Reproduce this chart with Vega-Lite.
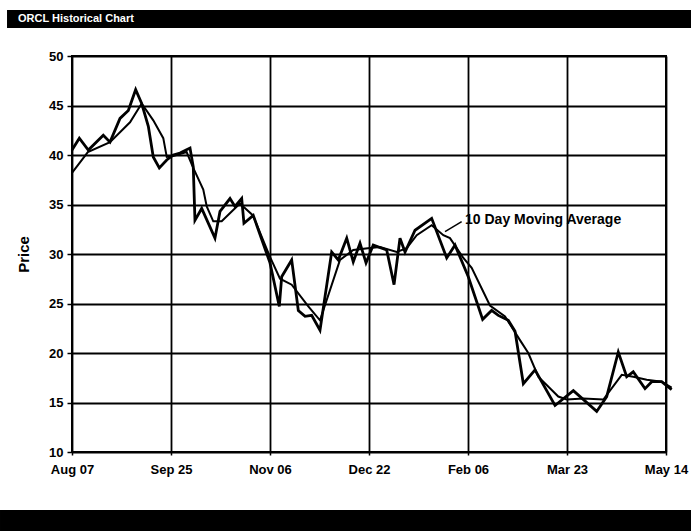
{
  "$schema": "https://vega.github.io/schema/vega-lite/v6.json",
  "padding": {"left": 0, "top": 10, "right": 0, "bottom": 0},
  "background": "white",
  "spacing": 21,
  "config": {"font": "Liberation Sans", "view": {"stroke": null}},
  "vconcat": [
    {
      "width": 594,
      "height": 18,
      "data": {"values": [{"title": "ORCL Historical Chart"}]},
      "encoding": {
        "y": {"datum": 0.5, "type": "quantitative", "scale": {"domain": [0, 1], "nice": false, "zero": false}, "axis": null}
      },
      "layer": [
        {
          "mark": {"type": "rect", "color": "black", "clip": false},
          "encoding": {
            "x": {"datum": -0.1094, "type": "quantitative", "scale": {"domain": [0, 1], "nice": false, "zero": false}, "axis": null},
            "x2": {"datum": 1.0421},
            "y": {"datum": 0, "type": "quantitative"},
            "y2": {"datum": 1}
          }
        },
        {
          "mark": {"type": "text", "color": "white", "font": "Liberation Sans", "fontSize": 11, "fontWeight": "bold", "align": "left", "baseline": "middle"},
          "encoding": {
            "text": {"field": "title"},
            "x": {"datum": -0.0909, "type": "quantitative"}
          }
        }
      ]
    },
    {
      "width": 594,
      "height": 396,
      "view": {"stroke": "black", "strokeWidth": 2, "fill": "white"},
      "data": {"values": [
        {"series": "Price", "t": 0, "v": 40.5},
        {"series": "Price", "t": 0.074, "v": 41.7},
        {"series": "Price", "t": 0.165, "v": 40.5},
        {"series": "Price", "t": 0.316, "v": 42.0},
        {"series": "Price", "t": 0.384, "v": 41.3},
        {"series": "Price", "t": 0.485, "v": 43.7},
        {"series": "Price", "t": 0.569, "v": 44.5},
        {"series": "Price", "t": 0.643, "v": 46.6},
        {"series": "Price", "t": 0.704, "v": 45.2},
        {"series": "Price", "t": 0.771, "v": 42.9},
        {"series": "Price", "t": 0.821, "v": 39.8},
        {"series": "Price", "t": 0.882, "v": 38.7},
        {"series": "Price", "t": 0.957, "v": 39.5},
        {"series": "Price", "t": 1.023, "v": 40.0},
        {"series": "Price", "t": 1.091, "v": 40.2},
        {"series": "Price", "t": 1.192, "v": 40.7},
        {"series": "Price", "t": 1.225, "v": 38.8},
        {"series": "Price", "t": 1.242, "v": 33.4},
        {"series": "Price", "t": 1.31, "v": 34.6},
        {"series": "Price", "t": 1.444, "v": 31.6},
        {"series": "Price", "t": 1.495, "v": 34.3},
        {"series": "Price", "t": 1.596, "v": 35.6},
        {"series": "Price", "t": 1.646, "v": 34.8},
        {"series": "Price", "t": 1.714, "v": 35.6},
        {"series": "Price", "t": 1.737, "v": 33.1},
        {"series": "Price", "t": 1.831, "v": 33.9},
        {"series": "Price", "t": 2.0, "v": 29.1},
        {"series": "Price", "t": 2.094, "v": 24.7},
        {"series": "Price", "t": 2.118, "v": 27.7},
        {"series": "Price", "t": 2.219, "v": 29.4},
        {"series": "Price", "t": 2.286, "v": 24.3},
        {"series": "Price", "t": 2.354, "v": 23.7},
        {"series": "Price", "t": 2.421, "v": 23.8},
        {"series": "Price", "t": 2.505, "v": 22.3},
        {"series": "Price", "t": 2.623, "v": 30.2},
        {"series": "Price", "t": 2.69, "v": 29.4},
        {"series": "Price", "t": 2.775, "v": 31.6},
        {"series": "Price", "t": 2.841, "v": 29.2},
        {"series": "Price", "t": 2.909, "v": 31.1},
        {"series": "Price", "t": 2.97, "v": 29.1},
        {"series": "Price", "t": 3.043, "v": 30.9},
        {"series": "Price", "t": 3.179, "v": 30.4},
        {"series": "Price", "t": 3.253, "v": 26.9},
        {"series": "Price", "t": 3.313, "v": 31.6},
        {"series": "Price", "t": 3.364, "v": 30.2},
        {"series": "Price", "t": 3.465, "v": 32.4},
        {"series": "Price", "t": 3.633, "v": 33.6},
        {"series": "Price", "t": 3.785, "v": 29.6},
        {"series": "Price", "t": 3.869, "v": 30.9},
        {"series": "Price", "t": 4.003, "v": 27.7},
        {"series": "Price", "t": 4.148, "v": 23.4},
        {"series": "Price", "t": 4.239, "v": 24.3},
        {"series": "Price", "t": 4.306, "v": 23.8},
        {"series": "Price", "t": 4.407, "v": 23.3},
        {"series": "Price", "t": 4.475, "v": 22.2},
        {"series": "Price", "t": 4.559, "v": 16.9},
        {"series": "Price", "t": 4.677, "v": 18.3},
        {"series": "Price", "t": 4.879, "v": 14.7},
        {"series": "Price", "t": 5.064, "v": 16.2},
        {"series": "Price", "t": 5.3, "v": 14.1},
        {"series": "Price", "t": 5.401, "v": 15.6},
        {"series": "Price", "t": 5.518, "v": 20.1},
        {"series": "Price", "t": 5.603, "v": 17.6},
        {"series": "Price", "t": 5.669, "v": 18.1},
        {"series": "Price", "t": 5.788, "v": 16.4},
        {"series": "Price", "t": 5.856, "v": 17.1},
        {"series": "Price", "t": 5.956, "v": 17.1},
        {"series": "Price", "t": 6.057, "v": 16.3},
        {"series": "MA", "t": 0, "v": 38.2},
        {"series": "MA", "t": 0.16, "v": 40.3},
        {"series": "MA", "t": 0.384, "v": 41.3},
        {"series": "MA", "t": 0.586, "v": 43.3},
        {"series": "MA", "t": 0.704, "v": 45.2},
        {"series": "MA", "t": 0.821, "v": 43.5},
        {"series": "MA", "t": 0.922, "v": 41.7},
        {"series": "MA", "t": 0.957, "v": 39.8},
        {"series": "MA", "t": 1.023, "v": 39.9},
        {"series": "MA", "t": 1.158, "v": 40.3},
        {"series": "MA", "t": 1.22, "v": 38.8},
        {"series": "MA", "t": 1.326, "v": 36.5},
        {"series": "MA", "t": 1.361, "v": 34.8},
        {"series": "MA", "t": 1.427, "v": 33.3},
        {"series": "MA", "t": 1.512, "v": 33.3},
        {"series": "MA", "t": 1.613, "v": 34.3},
        {"series": "MA", "t": 1.697, "v": 35.1},
        {"series": "MA", "t": 1.828, "v": 33.9},
        {"series": "MA", "t": 2.0, "v": 29.7},
        {"series": "MA", "t": 2.101, "v": 27.5},
        {"series": "MA", "t": 2.219, "v": 26.9},
        {"series": "MA", "t": 2.387, "v": 24.7},
        {"series": "MA", "t": 2.505, "v": 23.3},
        {"series": "MA", "t": 2.707, "v": 29.4},
        {"series": "MA", "t": 2.841, "v": 30.4},
        {"series": "MA", "t": 3.01, "v": 30.6},
        {"series": "MA", "t": 3.111, "v": 30.7},
        {"series": "MA", "t": 3.28, "v": 30.2},
        {"series": "MA", "t": 3.381, "v": 30.6},
        {"series": "MA", "t": 3.482, "v": 31.9},
        {"series": "MA", "t": 3.633, "v": 32.9},
        {"series": "MA", "t": 3.751, "v": 31.9},
        {"series": "MA", "t": 3.818, "v": 31.6},
        {"series": "MA", "t": 3.953, "v": 29.6},
        {"series": "MA", "t": 4.037, "v": 28.6},
        {"series": "MA", "t": 4.222, "v": 24.8},
        {"series": "MA", "t": 4.374, "v": 23.7},
        {"series": "MA", "t": 4.525, "v": 21.3},
        {"series": "MA", "t": 4.609, "v": 20.0},
        {"series": "MA", "t": 4.71, "v": 17.6},
        {"series": "MA", "t": 4.912, "v": 15.6},
        {"series": "MA", "t": 4.997, "v": 15.3},
        {"series": "MA", "t": 5.165, "v": 15.4},
        {"series": "MA", "t": 5.367, "v": 15.3},
        {"series": "MA", "t": 5.553, "v": 17.8},
        {"series": "MA", "t": 5.669, "v": 17.6},
        {"series": "MA", "t": 5.805, "v": 17.3},
        {"series": "MA", "t": 5.956, "v": 17.1},
        {"series": "MA", "t": 6.057, "v": 16.5}
      ]},
      "encoding": {
        "x": {
          "field": "t", "type": "quantitative",
          "scale": {"domain": [0, 6], "nice": false, "zero": false},
          "axis": {
            "values": [0, 1, 2, 3, 4, 5, 6],
            "labelExpr": "['Aug 07','Sep 25','Nov 06','Dec 22','Feb 06','Mar 23','May 14'][datum.value]",
            "title": " ", "titleFontSize": 8, "titlePadding": 4,
            "grid": true, "gridColor": "black", "gridWidth": 1.8, "gridOpacity": 1,
            "domain": false, "tickColor": "black", "tickSize": 3, "tickWidth": 1.5,
            "labelFont": "Liberation Sans", "labelFontWeight": "bold", "labelFontSize": 13,
            "labelColor": "black", "labelPadding": 8, "labelFlush": false, "labelOverlap": false
          }
        },
        "y": {
          "field": "v", "type": "quantitative",
          "scale": {"domain": [10, 50], "nice": false, "zero": false},
          "axis": {
            "values": [10, 15, 20, 25, 30, 35, 40, 45, 50],
            "title": "Price", "titleFontSize": 15, "titleFontWeight": "bold",
            "titleFont": "Liberation Sans", "titleColor": "black", "titlePadding": 17,
            "grid": true, "gridColor": "black", "gridWidth": 1.8, "gridOpacity": 1,
            "domain": false, "tickColor": "black", "tickSize": 5, "tickWidth": 1.5,
            "labelFont": "Liberation Sans", "labelFontWeight": "bold", "labelFontSize": 13,
            "labelColor": "black", "labelPadding": 4
          }
        }
      },
      "layer": [
        {
          "transform": [{"filter": "datum.series === 'MA'"}],
          "mark": {"type": "line", "color": "black", "strokeWidth": 2}
        },
        {
          "transform": [{"filter": "datum.series === 'Price'"}],
          "mark": {"type": "line", "color": "black", "strokeWidth": 2.8}
        },
        {
          "data": {"values": [{"x": 3.768, "y": 32.25, "x2": 3.936, "y2": 33.26}]},
          "mark": {"type": "rule", "color": "black", "strokeWidth": 1.5},
          "encoding": {
            "x": {"field": "x", "type": "quantitative"},
            "y": {"field": "y", "type": "quantitative"},
            "x2": {"field": "x2"},
            "y2": {"field": "y2"}
          }
        },
        {
          "data": {"values": [{"x": 3.97, "y": 33.4, "label": "10 Day Moving Average"}]},
          "mark": {"type": "text", "color": "black", "font": "Liberation Sans", "fontWeight": "bold", "fontSize": 14, "align": "left", "baseline": "middle"},
          "encoding": {
            "x": {"field": "x", "type": "quantitative"},
            "y": {"field": "y", "type": "quantitative"},
            "text": {"field": "label"}
          }
        }
      ]
    },
    {
      "width": 594,
      "height": 22,
      "data": {"values": [{"bar": "footer"}]},
      "mark": {"type": "rect", "color": "black", "clip": false},
      "encoding": {
        "x": {"datum": -0.1212, "type": "quantitative", "scale": {"domain": [0, 1], "nice": false, "zero": false}, "axis": null},
        "x2": {"datum": 1.0421},
        "y": {"datum": 0, "type": "quantitative", "scale": {"domain": [0, 1], "nice": false, "zero": false}, "axis": null},
        "y2": {"datum": 1}
      }
    }
  ]
}
